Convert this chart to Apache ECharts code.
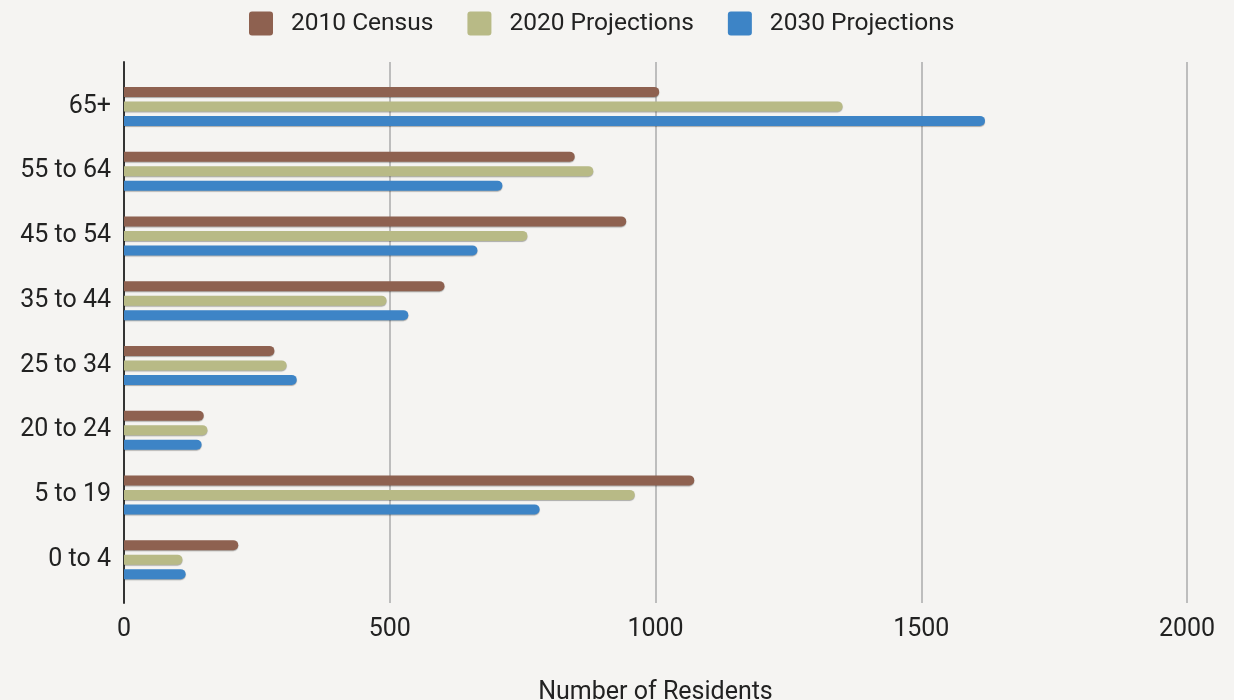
<!DOCTYPE html>
<html>
<head>
<meta charset="utf-8">
<script src="https://cdn.jsdelivr.net/npm/echarts@6/dist/echarts.min.js"></script>
<style>
html,body{margin:0;padding:0;background:#F5F4F2;}
#main{width:1234px;height:700px;}
</style>
</head>
<body>
<div id="main"></div>
<script>
const categories = ['65+', '55 to 64', '45 to 54', '35 to 44', '25 to 34', '20 to 24', '5 to 19', '0 to 4'];
const census2010 = [1007, 848, 945, 603, 283, 150, 1073, 215];
const proj2020 = [1352, 883, 759, 494, 306, 157, 961, 110];
const proj2030 = [1620, 712, 665, 535, 325, 146, 782, 116];
const xTicks = { min: 0, max: 2000, interval: 500 };
const seriesNames = ['2010 Census', '2020 Projections', '2030 Projections'];
const colors = ['#8E6150', '#B8BA86', '#3D84C6'];

const chart = echarts.init(document.getElementById('main'));
const font = 'Roboto, "Noto Sans", sans-serif';

function barSeries(name, data, color) {
  return {
    name: name, type: 'bar', data: data,
    xAxisIndex: 1, yAxisIndex: 1,
    barWidth: 10, barGap: '45%',
    itemStyle: {
      color: color,
      borderRadius: [0, 5, 5, 0],
      shadowColor: 'rgba(0,0,0,0.3)', shadowBlur: 1, shadowOffsetY: 1
    },
    emphasis: { disabled: true },
    animation: false
  };
}

chart.setOption({
  backgroundColor: '#F5F4F2',
  color: colors,
  animation: false,
  textStyle: { fontFamily: font },
  legend: {
    top: 11, left: 249, padding: 0,
    icon: 'path://M3,0 L21,0 Q24,0 24,3 L24,21 Q24,24 21,24 L3,24 Q0,24 0,21 L0,3 Q0,0 3,0 Z',
    itemWidth: 24, itemHeight: 24, itemGap: 34,
    itemStyle: { shadowBlur: 0, shadowOffsetY: 0, shadowColor: 'transparent' },
    textStyle: { fontSize: 24.5, color: '#222', fontFamily: font, padding: [0, 0, 0, 13] },
    data: seriesNames
  },
  grid: [
    { left: 124, right: 47, top: 62, bottom: 97, outerBoundsMode: 'none', containLabel: false },
    { left: 124, right: 47, top: 74, bottom: 108, outerBoundsMode: 'none', containLabel: false }
  ],
  xAxis: [
    {
      gridIndex: 0, type: 'value',
      min: xTicks.min, max: xTicks.max, interval: xTicks.interval,
      axisLine: { show: false }, axisTick: { show: false },
      splitLine: { show: true, lineStyle: { color: '#BDBDBD', width: 2 } },
      axisLabel: { fontSize: 25, color: '#222', margin: 14, fontFamily: font, formatter: v => String(v) },
      name: 'Number of Residents', nameLocation: 'middle', nameGap: 77,
      nameTextStyle: { fontSize: 25, color: '#222', fontFamily: font }
    },
    {
      gridIndex: 1, type: 'value',
      min: xTicks.min, max: xTicks.max,
      show: false
    }
  ],
  yAxis: [
    {
      gridIndex: 0, type: 'value', min: 0, max: 1,
      axisLine: { show: true, onZero: false, lineStyle: { color: '#333', width: 2 } },
      axisTick: { show: false }, axisLabel: { show: false }, splitLine: { show: false }
    },
    {
      gridIndex: 1, type: 'category', data: categories, inverse: true,
      axisLine: { show: false }, axisTick: { show: false }, splitLine: { show: false },
      axisLabel: { fontSize: 25, color: '#222', margin: 13, fontFamily: font }
    }
  ],
  series: [
    barSeries(seriesNames[0], census2010, colors[0]),
    barSeries(seriesNames[1], proj2020, colors[1]),
    barSeries(seriesNames[2], proj2030, colors[2])
  ]
});
</script>
</body>
</html>
